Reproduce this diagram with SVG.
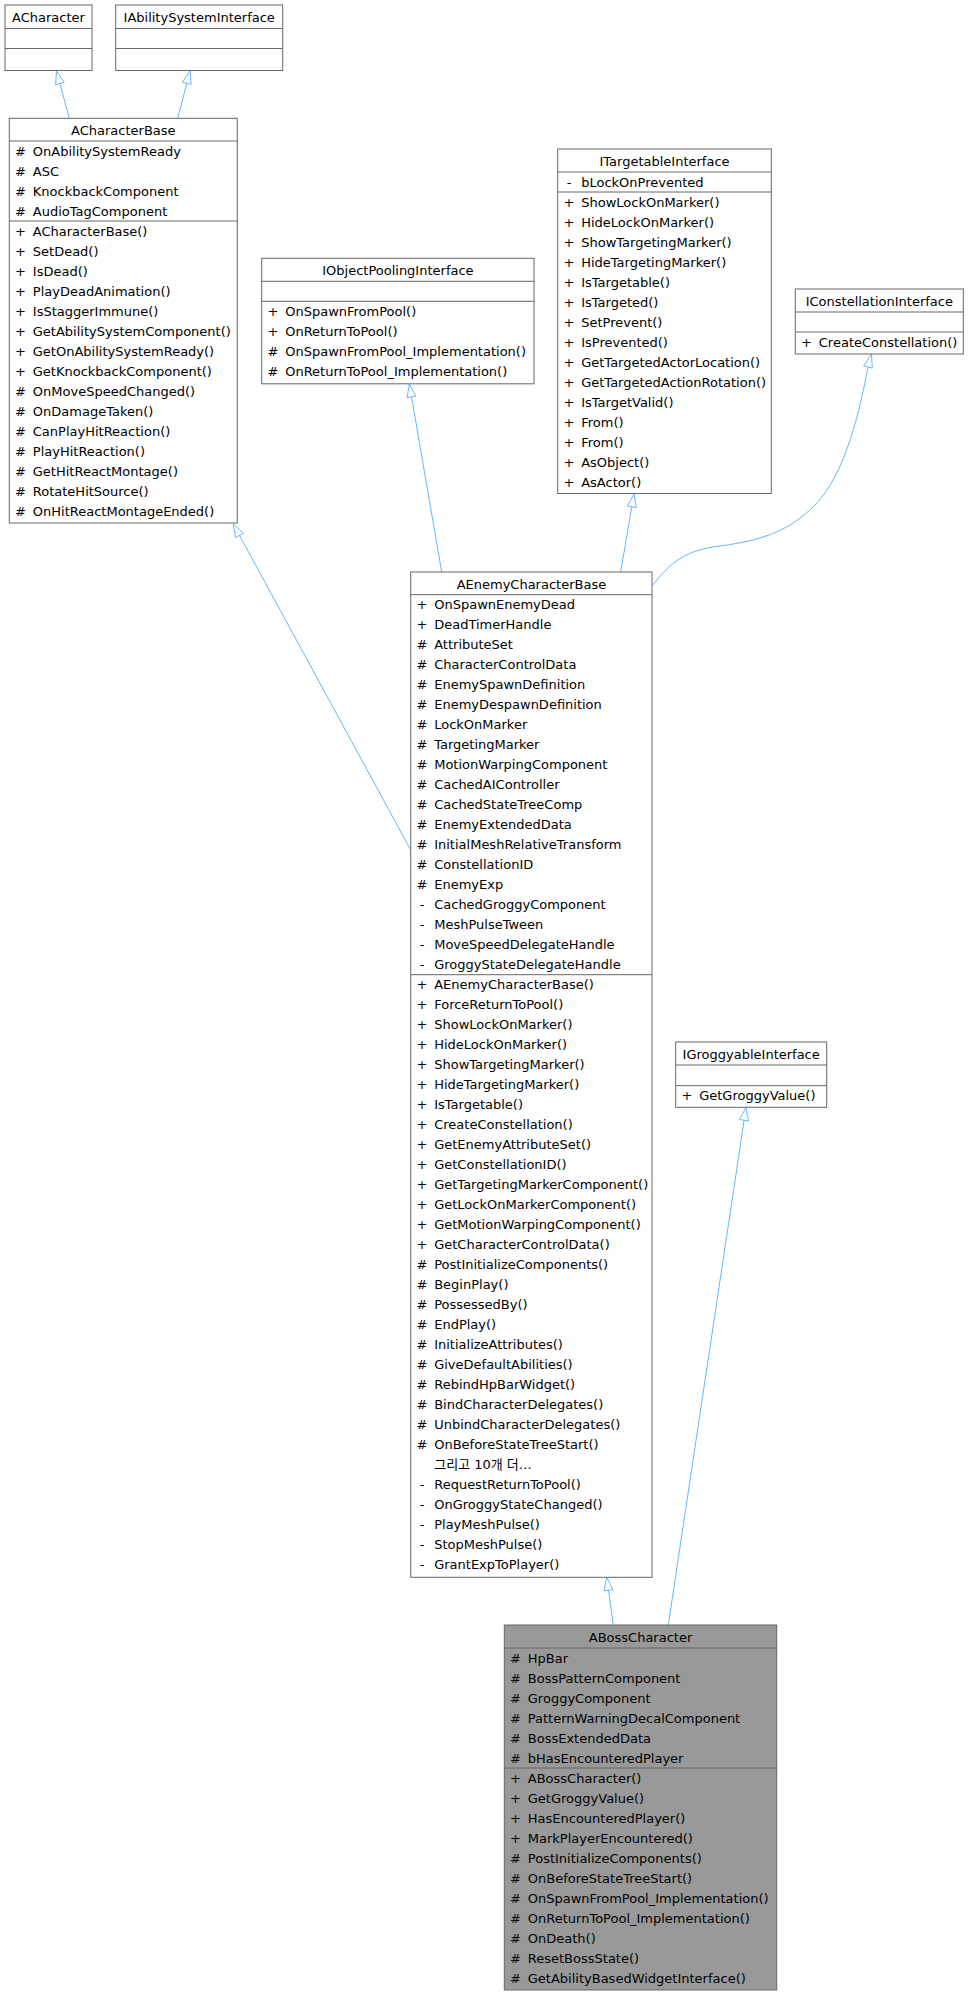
<svg xmlns="http://www.w3.org/2000/svg" width="969" height="1996" viewBox="0 0 969 1996">
<style>
text{font-family:"DejaVu Sans","Noto Sans CJK KR",sans-serif;font-size:13px;fill:#000}
.t{text-anchor:middle}
.box{fill:#fff;stroke:#666;stroke-width:1}
.cur{fill:#999;stroke:#666;stroke-width:1}
.dv{stroke:#666;stroke-width:1}
.e{fill:none;stroke:#63b8ff;stroke-width:1}
.ah{fill:none;stroke:#63b8ff;stroke-width:1}
</style>
<rect width="969" height="1996" fill="#fff"/>
<g id="connectors">
<path class="e" d="M69.3,118.3 L59.9,83.5"/><polygon class="ah" points="56.5,71 64.2,82.3 55.6,84.7"/>
<path class="e" d="M177.7,118.3 L186.8,83.3"/><polygon class="ah" points="190,70.7 191.1,84.4 182.4,82.2"/>
<path class="e" d="M410.7,850 L239.5,535.4"/><polygon class="ah" points="233.3,524 243.5,533.3 235.6,537.6"/>
<path class="e" d="M441.7,572 L411.5,396.8"/><polygon class="ah" points="409.3,384 415.9,396 407.1,397.6"/>
<path class="e" d="M620.7,572 L631.8,506.8"/><polygon class="ah" points="634,494 636.3,507.6 627.4,506"/>
<path class="e" d="M652,586 C670,563 685,550 720,546 C765,540 790,530 815,505 C845,475 860,410 868,367"/><polygon class="ah" points="871.5,354 872.3,368.2 863.6,365.8"/>
<path class="e" d="M613.3,1625 L608.5,1590.2"/><polygon class="ah" points="606.7,1577.3 613,1589.6 604,1590.8"/>
<path class="e" d="M668.3,1625 L744.1,1120.2"/><polygon class="ah" points="746,1107.3 748.5,1120.9 739.6,1119.5"/>
</g>
<g id="ACharacter">
<rect class="box" x="5" y="5" width="87" height="65.5"/>
<line class="dv" x1="5" y1="28.5" x2="92" y2="28.5"/><line class="dv" x1="5" y1="48.5" x2="92" y2="48.5"/>
<text class="t" x="48.5" y="21.5">ACharacter</text>
</g>
<g id="IAbilitySystemInterface">
<rect class="box" x="115.7" y="5" width="167" height="65.5"/>
<line class="dv" x1="115.7" y1="28.5" x2="282.7" y2="28.5"/><line class="dv" x1="115.7" y1="48.5" x2="282.7" y2="48.5"/>
<text class="t" x="199.2" y="21.5">IAbilitySystemInterface</text>
</g>
<g id="ACharacterBase">
<rect class="box" x="9.3" y="118.3" width="228" height="404.7"/>
<line class="dv" x1="9.3" y1="141" x2="237.3" y2="141"/><line class="dv" x1="9.3" y1="221" x2="237.3" y2="221"/>
<text class="t" x="123.3" y="134.8">ACharacterBase</text>
<text x="15.1" y="155.5">#</text><text x="32.8" y="155.5">OnAbilitySystemReady</text>
<text x="15.1" y="175.5">#</text><text x="32.8" y="175.5">ASC</text>
<text x="15.1" y="195.5">#</text><text x="32.8" y="195.5">KnockbackComponent</text>
<text x="15.1" y="215.5">#</text><text x="32.8" y="215.5">AudioTagComponent</text>
<text x="15.1" y="235.5">+</text><text x="32.8" y="235.5">ACharacterBase()</text>
<text x="15.1" y="255.5">+</text><text x="32.8" y="255.5">SetDead()</text>
<text x="15.1" y="275.5">+</text><text x="32.8" y="275.5">IsDead()</text>
<text x="15.1" y="295.5">+</text><text x="32.8" y="295.5">PlayDeadAnimation()</text>
<text x="15.1" y="315.5">+</text><text x="32.8" y="315.5">IsStaggerImmune()</text>
<text x="15.1" y="335.5">+</text><text x="32.8" y="335.5">GetAbilitySystemComponent()</text>
<text x="15.1" y="355.5">+</text><text x="32.8" y="355.5">GetOnAbilitySystemReady()</text>
<text x="15.1" y="375.5">+</text><text x="32.8" y="375.5">GetKnockbackComponent()</text>
<text x="15.1" y="395.5">#</text><text x="32.8" y="395.5">OnMoveSpeedChanged()</text>
<text x="15.1" y="415.5">#</text><text x="32.8" y="415.5">OnDamageTaken()</text>
<text x="15.1" y="435.5">#</text><text x="32.8" y="435.5">CanPlayHitReaction()</text>
<text x="15.1" y="455.5">#</text><text x="32.8" y="455.5">PlayHitReaction()</text>
<text x="15.1" y="475.5">#</text><text x="32.8" y="475.5">GetHitReactMontage()</text>
<text x="15.1" y="495.5">#</text><text x="32.8" y="495.5">RotateHitSource()</text>
<text x="15.1" y="515.5">#</text><text x="32.8" y="515.5">OnHitReactMontageEnded()</text>
</g>
<g id="IObjectPoolingInterface">
<rect class="box" x="261.7" y="258.3" width="272.3" height="125.5"/>
<line class="dv" x1="261.7" y1="281.3" x2="534" y2="281.3"/><line class="dv" x1="261.7" y1="301.3" x2="534" y2="301.3"/>
<text class="t" x="397.9" y="274.8">IObjectPoolingInterface</text>
<text x="267.5" y="315.8">+</text><text x="285.2" y="315.8">OnSpawnFromPool()</text>
<text x="267.5" y="335.8">+</text><text x="285.2" y="335.8">OnReturnToPool()</text>
<text x="267.5" y="355.8">#</text><text x="285.2" y="355.8">OnSpawnFromPool_Implementation()</text>
<text x="267.5" y="375.8">#</text><text x="285.2" y="375.8">OnReturnToPool_Implementation()</text>
</g>
<g id="ITargetableInterface">
<rect class="box" x="557.7" y="149" width="213.6" height="344.5"/>
<line class="dv" x1="557.7" y1="172" x2="771.3" y2="172"/><line class="dv" x1="557.7" y1="192" x2="771.3" y2="192"/>
<text class="t" x="664.5" y="165.5">ITargetableInterface</text>
<text x="566.7" y="186.5">-</text><text x="581.2" y="186.5">bLockOnPrevented</text>
<text x="563.5" y="206.5">+</text><text x="581.2" y="206.5">ShowLockOnMarker()</text>
<text x="563.5" y="226.5">+</text><text x="581.2" y="226.5">HideLockOnMarker()</text>
<text x="563.5" y="246.5">+</text><text x="581.2" y="246.5">ShowTargetingMarker()</text>
<text x="563.5" y="266.5">+</text><text x="581.2" y="266.5">HideTargetingMarker()</text>
<text x="563.5" y="286.5">+</text><text x="581.2" y="286.5">IsTargetable()</text>
<text x="563.5" y="306.5">+</text><text x="581.2" y="306.5">IsTargeted()</text>
<text x="563.5" y="326.5">+</text><text x="581.2" y="326.5">SetPrevent()</text>
<text x="563.5" y="346.5">+</text><text x="581.2" y="346.5">IsPrevented()</text>
<text x="563.5" y="366.5">+</text><text x="581.2" y="366.5">GetTargetedActorLocation()</text>
<text x="563.5" y="386.5">+</text><text x="581.2" y="386.5">GetTargetedActionRotation()</text>
<text x="563.5" y="406.5">+</text><text x="581.2" y="406.5">IsTargetValid()</text>
<text x="563.5" y="426.5">+</text><text x="581.2" y="426.5">From()</text>
<text x="563.5" y="446.5">+</text><text x="581.2" y="446.5">From()</text>
<text x="563.5" y="466.5">+</text><text x="581.2" y="466.5">AsObject()</text>
<text x="563.5" y="486.5">+</text><text x="581.2" y="486.5">AsActor()</text>
</g>
<g id="IConstellationInterface">
<rect class="box" x="795.3" y="289" width="168" height="65"/>
<line class="dv" x1="795.3" y1="312" x2="963.3" y2="312"/><line class="dv" x1="795.3" y1="332" x2="963.3" y2="332"/>
<text class="t" x="879.3" y="305.5">IConstellationInterface</text>
<text x="801.1" y="346.5">+</text><text x="818.8" y="346.5">CreateConstellation()</text>
</g>
<g id="AEnemyCharacterBase">
<rect class="box" x="410.7" y="572" width="241.3" height="1005.3"/>
<line class="dv" x1="410.7" y1="594.7" x2="652" y2="594.7"/><line class="dv" x1="410.7" y1="974.7" x2="652" y2="974.7"/>
<text class="t" x="531.4" y="588.5">AEnemyCharacterBase</text>
<text x="416.5" y="609.2">+</text><text x="434.2" y="609.2">OnSpawnEnemyDead</text>
<text x="416.5" y="629.2">+</text><text x="434.2" y="629.2">DeadTimerHandle</text>
<text x="416.5" y="649.2">#</text><text x="434.2" y="649.2">AttributeSet</text>
<text x="416.5" y="669.2">#</text><text x="434.2" y="669.2">CharacterControlData</text>
<text x="416.5" y="689.2">#</text><text x="434.2" y="689.2">EnemySpawnDefinition</text>
<text x="416.5" y="709.2">#</text><text x="434.2" y="709.2">EnemyDespawnDefinition</text>
<text x="416.5" y="729.2">#</text><text x="434.2" y="729.2">LockOnMarker</text>
<text x="416.5" y="749.2">#</text><text x="434.2" y="749.2">TargetingMarker</text>
<text x="416.5" y="769.2">#</text><text x="434.2" y="769.2">MotionWarpingComponent</text>
<text x="416.5" y="789.2">#</text><text x="434.2" y="789.2">CachedAIController</text>
<text x="416.5" y="809.2">#</text><text x="434.2" y="809.2">CachedStateTreeComp</text>
<text x="416.5" y="829.2">#</text><text x="434.2" y="829.2">EnemyExtendedData</text>
<text x="416.5" y="849.2">#</text><text x="434.2" y="849.2">InitialMeshRelativeTransform</text>
<text x="416.5" y="869.2">#</text><text x="434.2" y="869.2">ConstellationID</text>
<text x="416.5" y="889.2">#</text><text x="434.2" y="889.2">EnemyExp</text>
<text x="419.7" y="909.2">-</text><text x="434.2" y="909.2">CachedGroggyComponent</text>
<text x="419.7" y="929.2">-</text><text x="434.2" y="929.2">MeshPulseTween</text>
<text x="419.7" y="949.2">-</text><text x="434.2" y="949.2">MoveSpeedDelegateHandle</text>
<text x="419.7" y="969.2">-</text><text x="434.2" y="969.2">GroggyStateDelegateHandle</text>
<text x="416.5" y="989.2">+</text><text x="434.2" y="989.2">AEnemyCharacterBase()</text>
<text x="416.5" y="1009.2">+</text><text x="434.2" y="1009.2">ForceReturnToPool()</text>
<text x="416.5" y="1029.2">+</text><text x="434.2" y="1029.2">ShowLockOnMarker()</text>
<text x="416.5" y="1049.2">+</text><text x="434.2" y="1049.2">HideLockOnMarker()</text>
<text x="416.5" y="1069.2">+</text><text x="434.2" y="1069.2">ShowTargetingMarker()</text>
<text x="416.5" y="1089.2">+</text><text x="434.2" y="1089.2">HideTargetingMarker()</text>
<text x="416.5" y="1109.2">+</text><text x="434.2" y="1109.2">IsTargetable()</text>
<text x="416.5" y="1129.2">+</text><text x="434.2" y="1129.2">CreateConstellation()</text>
<text x="416.5" y="1149.2">+</text><text x="434.2" y="1149.2">GetEnemyAttributeSet()</text>
<text x="416.5" y="1169.2">+</text><text x="434.2" y="1169.2">GetConstellationID()</text>
<text x="416.5" y="1189.2">+</text><text x="434.2" y="1189.2">GetTargetingMarkerComponent()</text>
<text x="416.5" y="1209.2">+</text><text x="434.2" y="1209.2">GetLockOnMarkerComponent()</text>
<text x="416.5" y="1229.2">+</text><text x="434.2" y="1229.2">GetMotionWarpingComponent()</text>
<text x="416.5" y="1249.2">+</text><text x="434.2" y="1249.2">GetCharacterControlData()</text>
<text x="416.5" y="1269.2">#</text><text x="434.2" y="1269.2">PostInitializeComponents()</text>
<text x="416.5" y="1289.2">#</text><text x="434.2" y="1289.2">BeginPlay()</text>
<text x="416.5" y="1309.2">#</text><text x="434.2" y="1309.2">PossessedBy()</text>
<text x="416.5" y="1329.2">#</text><text x="434.2" y="1329.2">EndPlay()</text>
<text x="416.5" y="1349.2">#</text><text x="434.2" y="1349.2">InitializeAttributes()</text>
<text x="416.5" y="1369.2">#</text><text x="434.2" y="1369.2">GiveDefaultAbilities()</text>
<text x="416.5" y="1389.2">#</text><text x="434.2" y="1389.2">RebindHpBarWidget()</text>
<text x="416.5" y="1409.2">#</text><text x="434.2" y="1409.2">BindCharacterDelegates()</text>
<text x="416.5" y="1429.2">#</text><text x="434.2" y="1429.2">UnbindCharacterDelegates()</text>
<text x="416.5" y="1449.2">#</text><text x="434.2" y="1449.2">OnBeforeStateTreeStart()</text>
<text x="434.2" y="1469.2">그리고 10개 더…</text>
<text x="419.7" y="1489.2">-</text><text x="434.2" y="1489.2">RequestReturnToPool()</text>
<text x="419.7" y="1509.2">-</text><text x="434.2" y="1509.2">OnGroggyStateChanged()</text>
<text x="419.7" y="1529.2">-</text><text x="434.2" y="1529.2">PlayMeshPulse()</text>
<text x="419.7" y="1549.2">-</text><text x="434.2" y="1549.2">StopMeshPulse()</text>
<text x="419.7" y="1569.2">-</text><text x="434.2" y="1569.2">GrantExpToPlayer()</text>
</g>
<g id="IGroggyableInterface">
<rect class="box" x="675.7" y="1042" width="151" height="65.3"/>
<line class="dv" x1="675.7" y1="1065" x2="826.7" y2="1065"/><line class="dv" x1="675.7" y1="1085.7" x2="826.7" y2="1085.7"/>
<text class="t" x="751.2" y="1058.5">IGroggyableInterface</text>
<text x="681.5" y="1100.2">+</text><text x="699.2" y="1100.2">GetGroggyValue()</text>
</g>
<g id="ABossCharacter">
<rect class="cur" x="504.3" y="1625" width="272.4" height="365"/>
<line class="dv" x1="504.3" y1="1648" x2="776.7" y2="1648"/><line class="dv" x1="504.3" y1="1768" x2="776.7" y2="1768"/>
<text class="t" x="640.5" y="1641.5">ABossCharacter</text>
<text x="510.1" y="1662.5">#</text><text x="527.8" y="1662.5">HpBar</text>
<text x="510.1" y="1682.5">#</text><text x="527.8" y="1682.5">BossPatternComponent</text>
<text x="510.1" y="1702.5">#</text><text x="527.8" y="1702.5">GroggyComponent</text>
<text x="510.1" y="1722.5">#</text><text x="527.8" y="1722.5">PatternWarningDecalComponent</text>
<text x="510.1" y="1742.5">#</text><text x="527.8" y="1742.5">BossExtendedData</text>
<text x="510.1" y="1762.5">#</text><text x="527.8" y="1762.5">bHasEncounteredPlayer</text>
<text x="510.1" y="1782.5">+</text><text x="527.8" y="1782.5">ABossCharacter()</text>
<text x="510.1" y="1802.5">+</text><text x="527.8" y="1802.5">GetGroggyValue()</text>
<text x="510.1" y="1822.5">+</text><text x="527.8" y="1822.5">HasEncounteredPlayer()</text>
<text x="510.1" y="1842.5">+</text><text x="527.8" y="1842.5">MarkPlayerEncountered()</text>
<text x="510.1" y="1862.5">#</text><text x="527.8" y="1862.5">PostInitializeComponents()</text>
<text x="510.1" y="1882.5">#</text><text x="527.8" y="1882.5">OnBeforeStateTreeStart()</text>
<text x="510.1" y="1902.5">#</text><text x="527.8" y="1902.5">OnSpawnFromPool_Implementation()</text>
<text x="510.1" y="1922.5">#</text><text x="527.8" y="1922.5">OnReturnToPool_Implementation()</text>
<text x="510.1" y="1942.5">#</text><text x="527.8" y="1942.5">OnDeath()</text>
<text x="510.1" y="1962.5">#</text><text x="527.8" y="1962.5">ResetBossState()</text>
<text x="510.1" y="1982.5">#</text><text x="527.8" y="1982.5">GetAbilityBasedWidgetInterface()</text>
</g>
</svg>
